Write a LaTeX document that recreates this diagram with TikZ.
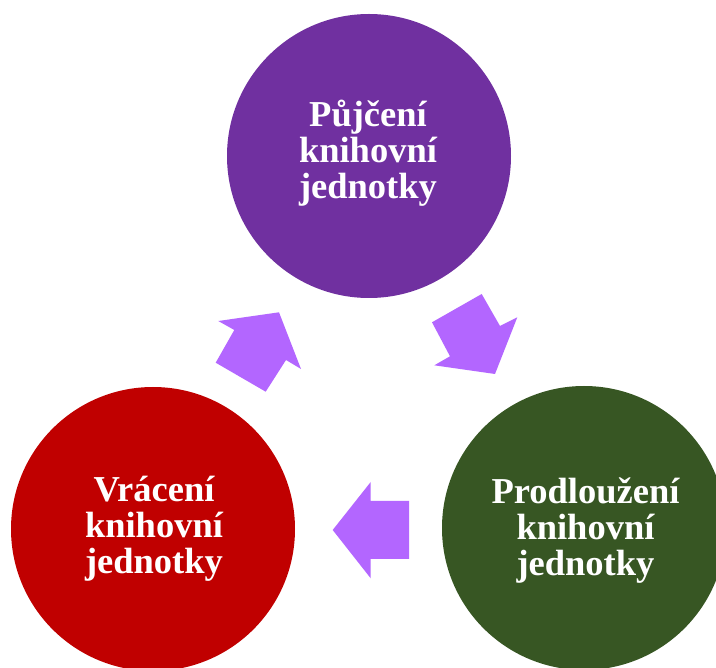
\documentclass[tikz,border=0pt]{standalone}
\usepackage{fontspec}
\setmainfont{Liberation Serif}
\definecolor{cpurple}{HTML}{7030A0}
\definecolor{cred}{HTML}{C00000}
\definecolor{cgreen}{HTML}{375623}
\definecolor{carrow}{HTML}{B366FF}
\begin{document}
\begin{tikzpicture}[x=1pt,y=-1pt,
  stage/.style={circle,minimum size=284pt,inner sep=0pt},
  stagetext/.style={text=white,inner sep=0pt,anchor=base,
    font=\fontsize{36.5}{36}\selectfont\bfseries,align=center},
  blockarrow/.style={fill=carrow,draw=none}]
\clip (0,0) rectangle (716,668);
\fill[white] (0,0) rectangle (716,668);
\node[stage,fill=cpurple] (top) at (369,156) {};
\node[stage,fill=cred] (left) at (153,529) {};
\node[stage,fill=cgreen] (right) at (584,528) {};
\node[stagetext] (toptext) at (368,198.5) {Půjčení\\knihovní\\jednotky};
\node[stagetext] (lefttext) at (154,574) {Vrácení\\knihovní\\jednotky};
\node[stagetext] (righttext) at (585.5,576) {Prodloužení\\knihovní\\jednotky};
\fill[blockarrow] (234.3,330) -- (218.3,321) -- (279,312.3) -- (301,369) -- (286,360) -- (265.7,391.7) -- (215.7,362.7) -- cycle;
\fill[blockarrow] (432,322.3) -- (481.7,294) -- (500,326) -- (517.3,317.3) -- (495,374) -- (434.3,365.3) -- (450,356.3) -- cycle;
\fill[blockarrow] (409,501) -- (370.7,501) -- (370.7,482) -- (332.7,530) -- (370.7,578.3) -- (370.7,559) -- (409,559) -- cycle;
\end{tikzpicture}
\end{document}
